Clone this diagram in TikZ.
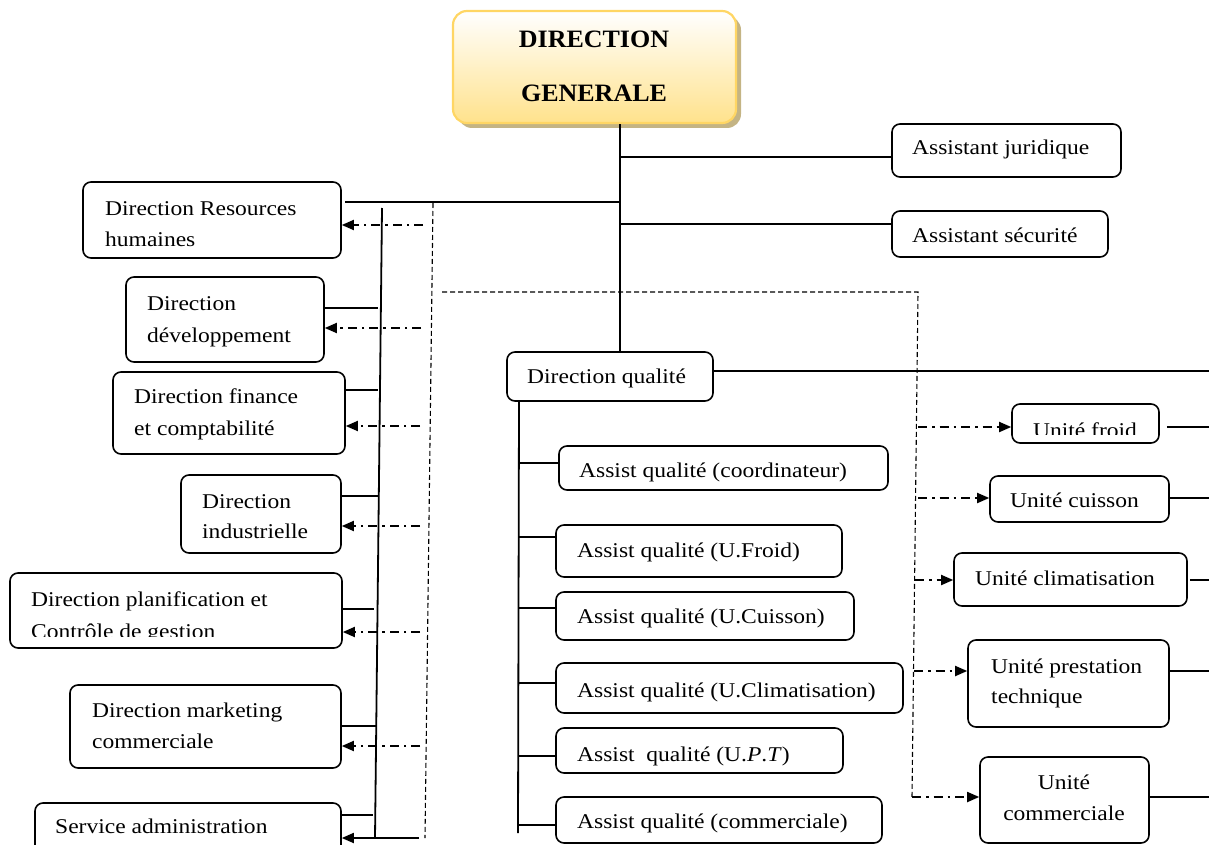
\documentclass[tikz,border=0pt]{standalone}
\usepackage{fontspec}
\setmainfont{Liberation Serif}[FakeStretch=1.12]
\newfontfamily\dgfont{Liberation Serif}[FakeStretch=1.04]
\usetikzlibrary{arrows.meta,fit,shadows}
\definecolor{dgborder}{RGB}{255,214,100}
\definecolor{dgbottom}{RGB}{255,226,140}
\definecolor{dgshadow}{RGB}{196,180,132}
\tikzset{
  box/.style={draw, line width=1.6pt, rounded corners=8pt, inner sep=0pt},
  txt/.style={inner sep=0pt, anchor=base west, font=\fontsize{21}{31}\selectfont},
  ln/.style={line width=1.8pt},
  dd/.style={line width=1.8pt, dash pattern=on 9pt off 5pt on 2.5pt off 5pt, -{Triangle[length=12pt,width=10pt]}},
  sarrow/.style={line width=1.8pt, -{Triangle[length=12pt,width=10pt]}},
  dsh/.style={line width=1.1pt, dash pattern=on 5pt off 3pt}
}
\begin{document}
\begin{tikzpicture}[x=1pt,y=-1pt]
\useasboundingbox (0,0) rectangle (1209,845);

% ---------- Direction generale
\node[fit={(453,11)(736,123)}, inner sep=0pt, rounded corners=14pt, draw=dgborder, line width=2.2pt,
      top color=white, bottom color=dgbottom,
      drop shadow={shadow xshift=5pt, shadow yshift=-5pt, fill=dgshadow, opacity=1}] (dg) {};
\node[anchor=base, inner sep=0pt, font=\dgfont\bfseries\fontsize{25}{30}\selectfont] (dg1) at (594,48) {DIRECTION};
\node[anchor=base, inner sep=0pt, font=\dgfont\bfseries\fontsize{25}{30}\selectfont] (dg2) at (594,102) {GENERALE};

% ---------- left boxes
\node[box, fit={(83,182)(341,258)}] (drh) {};
\node[txt] (drh1) at (105,215) {Direction Resources};
\node[txt] (drh2) at (105,246) {humaines};

\node[box, fit={(126,277)(324,362)}] (dev) {};
\node[txt] (dev1) at (147,310) {Direction};
\node[txt] (dev2) at (147,342) {développement};

\node[box, fit={(113,372)(345,454)}] (fin) {};
\node[txt] (fin1) at (134,403) {Direction finance};
\node[txt] (fin2) at (134,435) {et comptabilité};

\node[box, fit={(181,475)(341,553)}] (ind) {};
\node[txt] (ind1) at (202,508) {Direction};
\node[txt] (ind2) at (202,538) {industrielle};

\node[box, fit={(10,573)(342,648)}] (plan) {};
\node[txt] (plan1) at (31,606) {Direction planification et};
\begin{scope}
  \clip (10,573) rectangle (342,636);
  \node[txt] (plan2) at (31,638) {Contrôle de gestion};
\end{scope}

\node[box, fit={(70,685)(341,768)}] (mkt) {};
\node[txt] (mkt1) at (92,717) {Direction marketing};
\node[txt] (mkt2) at (92,748) {commerciale};

\node[box, fit={(35,803)(341,860)}] (adm) {};
\node[txt] (adm1) at (55,833) {Service administration};

% ---------- assistants
\node[box, fit={(892,124)(1121,177)}] (aj) {};
\node[txt] (aj1) at (912,155) {Assistant juridique};
\node[box, fit={(892,211)(1108,257)}] (as) {};
\node[txt] (as1) at (912,242) {Assistant sécurité};

% ---------- direction qualite
\node[box, fit={(507,352)(713,401)}] (dq) {};
\node[txt] (dq1) at (527,383) {Direction qualité};

\node[box, fit={(559,446)(888,490)}] (aq1) {};
\node[txt] (aq1t) at (579,477) {Assist qualité (coordinateur)};
\node[box, fit={(556,525)(842,577)}] (aq2) {};
\node[txt] (aq2t) at (577,557) {Assist qualité (U.Froid)};
\node[box, fit={(556,592)(854,640)}] (aq3) {};
\node[txt] (aq3t) at (577,623) {Assist qualité (U.Cuisson)};
\node[box, fit={(556,663)(903,713)}] (aq4) {};
\node[txt] (aq4t) at (577,697) {Assist qualité (U.Climatisation)};
\node[box, fit={(556,728)(843,773)}] (aq5) {};
\node[txt] (aq5t) at (577,761) {Assist\ \ qualité (U.\textit{P}.\textit{T})};
\node[box, fit={(556,797)(882,843)}] (aq6) {};
\node[txt] (aq6t) at (577,828) {Assist qualité (commerciale)};

% ---------- unites
\node[box, fit={(1012,404)(1159,443)}] (u1) {};
\begin{scope}
  \clip (1012,404) rectangle (1159,434);
  \node[txt, anchor=base] (u1t) at (1085,437) {Unité froid};
\end{scope}
\node[box, fit={(990,476)(1169,522)}] (u2) {};
\node[txt] (u2t) at (1010,507) {Unité cuisson};
\node[box, fit={(954,553)(1187,606)}] (u3) {};
\node[txt] (u3t) at (975,585) {Unité climatisation};
\node[box, fit={(968,640)(1169,727)}] (u4) {};
\node[txt] (u4a) at (991,673) {Unité prestation};
\node[txt] (u4b) at (991,703) {technique};
\node[box, fit={(980,757)(1149,843)}] (u5) {};
\node[txt, anchor=base] (u5a) at (1064,789) {Unité};
\node[txt, anchor=base] (u5b) at (1064,820) {commerciale};

% ---------- main trunk
\coordinate (jaj) at (620,157);
\coordinate (jas) at (620,224);
\coordinate (jdrh) at (620,202);
\draw[ln] (dg.south -| 620,0) -- (dq.north -| 620,0);
\draw[ln] (jaj) -- (aj.west |- jaj);
\draw[ln] (jas) -- (as.west |- jas);
\draw[ln] (jdrh) -- (345,202);

% ---------- left solid vertical and its branches
\coordinate (lvtop) at (382,208);
\coordinate (lvbot) at (375,838);
\draw[ln] (lvtop) -- (lvbot);
\coordinate (lv1) at (378,308);
\coordinate (lv2) at (378,390);
\coordinate (lv3) at (378,496);
\coordinate (lv4) at (374,609);
\coordinate (lv5) at (377,726);
\coordinate (lv6) at (373,815);
\draw[ln] (dev.east |- lv1) -- (lv1);
\draw[ln] (fin.east |- lv2) -- (lv2);
\draw[ln] (ind.east |- lv3) -- (lv3);
\draw[ln] (plan.east |- lv4) -- (lv4);
\draw[ln] (mkt.east |- lv5) -- (lv5);
\draw[ln] (adm.east |- lv6) -- (lv6);

% ---------- dashed frame
\coordinate (dl1) at (433,203);
\coordinate (dl2) at (425,838);
\draw[dsh] (dl1) -- (dl2);
\coordinate (dt1) at (442,292);
\coordinate (dt2) at (918,292);
\coordinate (dt3) at (912,797);
\draw[dsh] (dt1) -- (dt2) -- (dt3);

% ---------- dash-dot arrows to left boxes
\coordinate (la1) at (423,225);
\coordinate (la2) at (421,328);
\coordinate (la3) at (420,426);
\coordinate (la4) at (420,526);
\coordinate (la5) at (420,632);
\coordinate (la6) at (420,746);
\coordinate (la7) at (419,838);
\draw[dd] (la1) -- (drh.east |- la1);
\draw[dd] (la2) -- (dev.east |- la2);
\draw[dd] (la3) -- (fin.east |- la3);
\draw[dd] (la4) -- (ind.east |- la4);
\draw[dd] (la5) -- (plan.east |- la5);
\draw[dd] (la6) -- (mkt.east |- la6);
\draw[sarrow] (la7) -- (adm.east |- la7);

% ---------- direction qualite branches
\draw[ln] (dq.east |- 0,371) -- (1209,371);
\coordinate (qv1) at (519,401);
\coordinate (qv2) at (518,833);
\draw[ln] (qv1) -- (qv2);
\coordinate (qa1) at (519,463);
\coordinate (qa2) at (519,537);
\coordinate (qa3) at (519,608);
\coordinate (qa4) at (519,683);
\coordinate (qa5) at (518,756);
\coordinate (qa6) at (518,825);
\draw[ln] (qa1) -- (aq1.west |- qa1);
\draw[ln] (qa2) -- (aq2.west |- qa2);
\draw[ln] (qa3) -- (aq3.west |- qa3);
\draw[ln] (qa4) -- (aq4.west |- qa4);
\draw[ln] (qa5) -- (aq5.west |- qa5);
\draw[ln] (qa6) -- (aq6.west |- qa6);

% ---------- dash-dot arrows to unites
\coordinate (ra1) at (918,427);
\coordinate (ra2) at (918,498);
\coordinate (ra3) at (915,580);
\coordinate (ra4) at (914,671);
\coordinate (ra5) at (912,797);
\draw[dd] (ra1) -- (u1.west |- ra1);
\draw[dd] (ra2) -- (u2.west |- ra2);
\draw[dd] (ra3) -- (u3.west |- ra3);
\draw[dd] (ra4) -- (u4.west |- ra4);
\draw[dd] (ra5) -- (u5.west |- ra5);

% ---------- lines to the right edge
\coordinate (re1) at (1209,427);
\coordinate (re2) at (1209,498);
\coordinate (re3) at (1209,580);
\coordinate (re4) at (1209,671);
\coordinate (re5) at (1209,797);
\draw[ln] ([xshift=7pt]u1.east |- re1) -- (re1);
\draw[ln] (u2.east |- re2) -- (re2);
\draw[ln] ([xshift=2pt]u3.east |- re3) -- (re3);
\draw[ln] (u4.east |- re4) -- (re4);
\draw[ln] (u5.east |- re5) -- (re5);
\end{tikzpicture}
\end{document}
